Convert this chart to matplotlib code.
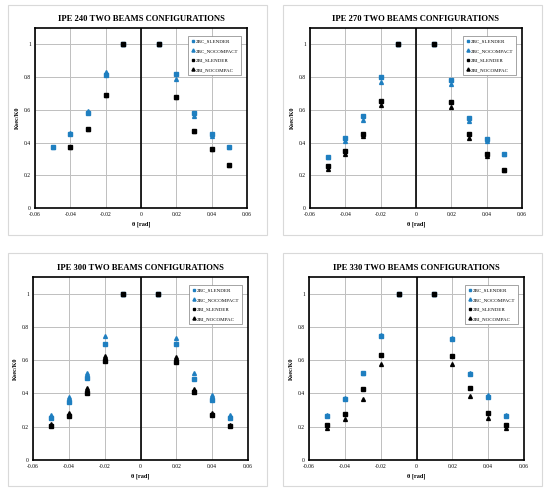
import matplotlib
matplotlib.use("Agg")
import matplotlib.pyplot as plt
import matplotlib.patches as patches
import numpy as np

plt.rcParams['font.family'] = ['Liberation Serif', 'DejaVu Serif']

theta = [-0.05, -0.04, -0.03, -0.02, -0.01, 0.01, 0.02, 0.03, 0.04, 0.05]
nan = np.nan

titles = ["IPE 240 TWO BEAMS CONFIGURATIONS", "IPE 270 TWO BEAMS CONFIGURATIONS",
          "IPE 300 TWO BEAMS CONFIGURATIONS", "IPE 330 TWO BEAMS CONFIGURATIONS"]

# 2BC_SLENDER
bc_slender = [
    [0.37, 0.45, 0.58, 0.81, 1.0, 1.0, 0.82, 0.58, 0.45, 0.37],
    [0.31, 0.43, 0.56, 0.80, 1.0, 1.0, 0.78, 0.55, 0.42, 0.33],
    [0.255, 0.35, 0.49, 0.70, 1.0, 1.0, 0.695, 0.485, 0.36, 0.255],
    [0.265, 0.365, 0.52, 0.745, 1.0, 1.0, 0.73, 0.515, 0.38, 0.265],
]
# 2BC_NOCOMPACT
bc_nocompact = [
    [0.37, 0.46, 0.59, 0.83, 1.0, 1.0, 0.79, 0.56, 0.44, 0.37],
    [0.31, 0.41, 0.54, 0.77, 1.0, 1.0, 0.76, 0.53, 0.41, 0.33],
    [0.27, 0.38, 0.525, 0.745, 1.0, 1.0, 0.735, 0.52, 0.39, 0.27],
    [0.27, 0.37, 0.525, 0.75, 1.0, 1.0, 0.735, 0.52, 0.39, 0.27],
]
# 2BI_SLENDER
bi_slender = [
    [nan, 0.37, 0.48, 0.69, 1.0, 1.0, 0.68, 0.47, 0.36, 0.26],
    [0.255, 0.35, 0.45, 0.655, 1.0, 1.0, 0.645, 0.45, 0.33, 0.235],
    [0.205, 0.265, 0.405, 0.595, 1.0, 1.0, 0.59, 0.41, 0.27, 0.205],
    [0.21, 0.275, 0.425, 0.63, 1.0, 1.0, 0.625, 0.43, 0.28, 0.21],
]
# 2BI_NOCOMPAC
bi_nocompac = [
    [nan, 0.37, 0.48, 0.69, 1.0, 1.0, 0.68, 0.47, 0.36, 0.26],
    [0.24, 0.33, 0.44, 0.63, 1.0, 1.0, 0.62, 0.43, 0.32, 0.23],
    [0.215, 0.285, 0.43, 0.625, 1.0, 1.0, 0.62, 0.425, 0.28, 0.21],
    [0.195, 0.245, 0.365, 0.575, 1.0, 1.0, 0.575, 0.385, 0.25, 0.195],
]

W, H = 550, 496
fig = plt.figure(figsize=(W / 100, H / 100), dpi=100)

# axes boxes in pixels: left, top, right, bottom
axes_px = [(35, 28, 247, 208), (310, 28, 522, 208),
           (33, 277, 248, 460), (309, 277, 524, 460)]
frames_px = [(8, 5, 267, 235), (283, 5, 542, 235),
             (8, 253, 267, 486), (283, 253, 542, 486)]

blue = '#1f7fc0'

for i in range(4):
    fl, ft, fr, fb = frames_px[i]
    fig.patches.append(patches.Rectangle((fl / W, 1 - fb / H), (fr - fl) / W, (fb - ft) / H,
                                         transform=fig.transFigure, fill=False,
                                         edgecolor='#d9d9d9', lw=0.8))
    l, t, r, b = axes_px[i]
    ax = fig.add_axes([l / W, 1 - b / H, (r - l) / W, (b - t) / H])
    ax.plot(theta, bc_slender[i], 's', color=blue, ms=2.6, label='2BC_SLENDER', zorder=3)
    ax.plot(theta, bc_nocompact[i], '^', color=blue, ms=2.8, label='2BC_NOCOMPACT', zorder=3)
    ax.plot(theta, bi_slender[i], 's', color='black', ms=2.6, label='2BI_SLENDER', zorder=4)
    ax.plot(theta, bi_nocompac[i], '^', color='black', ms=2.8, label='2BI_NOCOMPAC', zorder=4)
    ax.set_xlim(-0.06, 0.06)
    ax.set_ylim(0, 1.1)
    ax.set_xticks([-0.06, -0.04, -0.02, 0, 0.02, 0.04, 0.06])
    ax.set_xticklabels(['-0.06', '-0.04', '-0.02', '0', '0.02', '0.04', '0.06'])
    ax.set_yticks([0, 0.2, 0.4, 0.6, 0.8, 1.0])
    ax.set_yticklabels(['0', '0.2', '0.4', '0.6', '0.8', '1'])
    ax.grid(True, color='#bfbfbf', lw=0.7)
    ax.set_axisbelow(True)
    ax.axvline(0, color='black', lw=1.2, zorder=2)
    for s in ax.spines.values():
        s.set_linewidth(1.2)
    ax.tick_params(length=0, labelsize=4, pad=3)
    ax.set_title(titles[i], fontsize=6.2, fontweight='bold', pad=5)
    ax.set_xlabel('θ [rad]', fontsize=4.5, fontweight='bold', labelpad=3)
    ax.set_ylabel('Ksec/K0', fontsize=4.5, fontweight='bold', labelpad=3)
    leg = ax.legend(loc='upper right', fontsize=3.6, frameon=True, fancybox=False,
                    edgecolor='#808080', framealpha=1, borderpad=0.6, labelspacing=1.0,
                    handlelength=0.6, handletextpad=0.3, markerscale=0.8,
                    bbox_to_anchor=(0.985, 0.97))
    leg.get_frame().set_linewidth(0.5)

fig.savefig('out.png', dpi=100)
